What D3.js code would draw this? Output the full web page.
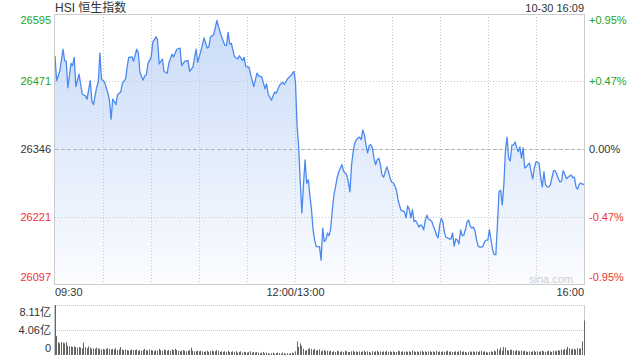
<!DOCTYPE html>
<html>
<head>
<meta charset="utf-8">
<script src="https://cdn.jsdelivr.net/npm/d3@7"></script>
<style>
body { margin: 0; background: #fff; }
svg { display: block; font-family: Arial, "Liberation Sans", "Noto Sans CJK SC", sans-serif; }
</style>
</head>
<body>
<script>
// trading minute since 09:30 (lunch removed, 150 = 12:00/13:00, 330 = 16:00)
var minutes = [0,1,3,5,6,7,8,10,11,12,13,15,17,19,20,22,23,24,26,27,28,29,31,33,34,35,36,38,39,41,42,44,45,46,48,49,51,52,53,55,56,57,58,60,61,63,64,65,67,68,70,71,73,74,76,78,79,81,83,84,86,88,89,91,93,95,96,97,99,101,102,104,106,107,108,109,110,112,114,115,117,118,119,121,122,124,126,127,129,131,132,133,135,137,138,140,142,143,145,147,149,150,
  151,152,153,154,155,156,157,158,159,160,161,162,163,165,166,167,168,169,170,171,172,173,174,175,176,177,178,179,180,181,182,183,184,185,186,187,188,189,190,
  191,192,193,194,195,196,197,198,199,200,201,202,203,204,205,206,207,208,209,210,211,212,213,214,215,216,217,218,219,220,221,222,223,224,225,226,227,228,229,230,
  231,232,233,234,235,236,237,238,239,240,241,242,243,244,245,246,247,248,249,250,251,252,253,254,255,256,257,258,259,260,261,262,263,264,265,266,267,268,269,270,
  271,272,273,274,275,276,277,278,279,280,281,282,283,284,285,286,287,288,289,290,291,292,293,294,295,296,297,298,299,300,301,302,303,304,305,306,307,308,309,310,
  311,312,313,314,315,316,317,318,319,320,321,322,323,324,325,326,327,328,329,330];

var prices = [26518,26472,26490,26530,26509,26508,26459,26504,26500,26515,26461,26484,26447,26444,26438,26472,26434,26428,26460,26469,26523,26475,26469,26449,26435,26401,26438,26428,26446,26451,26467,26475,26497,26515,26516,26508,26530,26523,26487,26473,26481,26483,26504,26515,26543,26553,26547,26503,26512,26489,26486,26504,26521,26516,26530,26532,26500,26508,26509,26489,26497,26530,26506,26527,26551,26532,26535,26553,26557,26583,26572,26552,26537,26537,26561,26540,26541,26516,26512,26518,26509,26515,26498,26497,26484,26461,26486,26481,26479,26457,26466,26447,26436,26451,26449,26463,26469,26465,26475,26481,26489,26470,
  26390,26350,26285,26228,26280,26326,26283,26289,26261,26234,26197,26178,26166,26166,26141,26200,26175,26179,26191,26186,26200,26234,26261,26276,26293,26304,26311,26317,26305,26302,26298,26285,26267,26317,26341,26357,26363,26366,26368,
  26363,26381,26372,26353,26339,26352,26354,26348,26329,26317,26326,26329,26317,26298,26294,26304,26313,26304,26293,26285,26284,26278,26270,26252,26241,26232,26232,26230,26219,26241,26235,26219,26234,26212,26214,26208,26202,26206,26204,26197,
  26215,26224,26217,26215,26213,26204,26197,26187,26182,26206,26218,26211,26191,26183,26182,26180,26180,26191,26167,26180,26178,26171,26197,26186,26187,26197,26211,26215,26204,26200,26202,26195,26178,26167,26165,26165,26167,26175,26178,26178,
  26197,26178,26160,26151,26151,26206,26267,26270,26243,26280,26344,26368,26329,26324,26353,26353,26359,26348,26341,26350,26329,26348,26311,26313,26317,26320,26304,26291,26311,26322,26322,26319,26293,26276,26304,26280,26276,26276,26280,26293,
  26306,26306,26300,26291,26285,26287,26306,26300,26291,26294,26296,26298,26293,26294,26276,26272,26281,26283,26281,26281];

// volume per minute, in 亿
var volumes = [8.11,3.1,2.1,1.9,2.1,2.0,1.9,2.1,1.5,1.4,
  1.4,1.3,1.4,1.3,1.2,1.3,1.2,1.1,2.0,1.3,
  1.1,1.4,1.2,1.0,1.1,1.0,1.2,1.1,1.0,0.9,
  1.0,0.9,1.0,1.1,1.0,0.9,1.0,0.9,1.1,0.8,
  0.9,1.3,0.9,0.8,0.9,0.8,0.7,0.8,0.9,0.8,
  0.8,0.9,0.7,0.8,0.7,0.8,1.0,0.8,0.7,0.9,
  0.8,0.7,0.6,0.8,0.7,1.0,0.8,0.7,0.9,0.8,
  0.7,0.8,0.7,0.9,0.8,1.0,0.8,0.7,0.6,0.7,
  0.8,0.7,0.6,0.7,0.8,1.2,0.7,0.6,0.6,0.7,
  0.6,0.7,0.6,0.5,0.6,0.7,0.5,0.6,0.7,0.6,
  0.6,0.8,0.7,0.5,0.6,0.5,0.6,0.5,0.7,0.5,
  0.5,0.6,0.5,0.6,0.4,0.5,0.6,0.4,0.5,0.5,
  0.4,0.5,0.6,0.4,0.5,0.4,0.5,0.4,0.3,0.4,
  0.5,0.3,0.4,0.3,0.2,0.3,0.4,0.2,0.3,0.4,
  0.3,0.2,0.4,0.3,0.2,0.3,0.2,0.3,0.4,0.3,0.6,
  2.2,1.3,1.9,1.5,1.0,0.7,0.8,1.0,1.1,1.0,
  0.8,1.0,0.7,0.8,0.9,0.6,0.7,0.8,0.6,0.7,
  0.6,0.7,0.5,0.6,0.5,0.7,0.6,0.5,0.6,0.5,
  0.7,0.6,0.5,0.5,0.6,0.7,0.5,0.6,0.5,0.6,
  0.5,0.6,0.7,0.5,0.6,0.5,0.4,0.6,0.5,0.6,
  0.7,0.5,0.6,0.5,0.6,0.5,0.7,0.5,0.6,0.5,
  0.6,0.5,0.5,0.7,0.6,0.5,0.6,0.5,0.6,0.5,
  0.6,0.5,0.7,0.6,0.5,0.6,0.5,0.6,0.7,0.5,
  0.6,0.5,0.6,0.6,0.5,0.6,0.5,0.7,0.5,0.6,
  0.5,0.6,0.5,0.6,0.7,0.5,0.6,0.5,0.5,0.6,
  0.5,0.6,0.7,0.5,0.6,0.5,0.4,0.5,0.6,0.5,
  0.6,0.5,0.6,0.5,0.6,0.7,0.5,0.6,0.5,0.4,
  0.5,0.6,0.5,0.7,0.6,1.0,0.8,1.2,0.7,1.3,
  1.2,0.8,0.7,0.9,0.8,0.7,0.6,0.8,0.7,0.6,
  0.7,0.6,0.7,0.6,0.5,0.6,0.5,0.6,0.7,0.5,
  0.6,0.5,0.6,0.7,0.6,0.5,0.6,0.7,0.6,0.5,
  0.7,0.6,0.7,0.8,0.7,0.9,0.8,1.0,0.9,1.3,
  1.1,0.9,1.0,1.0,0.9,1.1,1.0,1.1,2.2,5.6];

var priceTicks = [26595, 26471, 26346, 26221, 26097];
var pctLabels = ["+0.95%", "+0.47%", "0.00%", "-0.47%", "-0.95%"];
var volTicks = [8.11, 4.055, 0];
var volLabels = ["8.11亿", "4.06亿", "0"];
var timeTicks = [0, 150, 330];
var timeLabels = ["09:30", "12:00/13:00", "16:00"];
var gridMinutes = [30, 60, 90, 120, 150, 180, 210, 240, 270, 300];

var green = "#25a525", red = "#f03333", dark = "#333";

var plotL = 55, plotR = 584, plotT = 14, plotB = 284;
var volT = 305, volB = 355;

var svg = d3.select("body").append("svg")
  .attr("width", 640)
  .attr("height", 360);

var x = d3.scaleLinear().domain([0, 330]).range([plotL, plotR]);
var y = d3.scaleLinear().domain([26097, 26595]).range([plotB, plotT]);
var yv = d3.scaleLinear().domain([0, 8.11]).range([volB, volT]);

// gradient under the line
var grad = svg.append("defs").append("linearGradient")
  .attr("id", "fillGrad")
  .attr("gradientUnits", "userSpaceOnUse")
  .attr("x1", 0).attr("y1", plotT).attr("x2", 0).attr("y2", plotB);
grad.append("stop").attr("offset", "0%").attr("stop-color", "#c8dbf8");
grad.append("stop").attr("offset", "100%").attr("stop-color", "#fbfcff");

var series = minutes.map(function(m, i) { return {m: m, p: prices[i]}; });

svg.append("path")
  .datum(series)
  .attr("fill", "url(#fillGrad)")
  .attr("d", d3.area()
    .x(function(d) { return x(d.m); })
    .y0(plotB)
    .y1(function(d) { return y(d.p); }));

// grid
svg.selectAll("line.vgrid")
  .data(gridMinutes)
  .enter().append("line")
  .attr("x1", function(d) { return Math.round(x(d)) + 0.5; })
  .attr("x2", function(d) { return Math.round(x(d)) + 0.5; })
  .attr("y1", plotT).attr("y2", plotB)
  .attr("stroke", "#c8c8c8")
  .attr("stroke-dasharray", "1,2");

svg.selectAll("line.hgrid")
  .data(priceTicks.slice(1, 4))
  .enter().append("line")
  .attr("x1", plotL).attr("x2", plotR)
  .attr("y1", function(d) { return Math.round(y(d)) + 0.5; })
  .attr("y2", function(d) { return Math.round(y(d)) + 0.5; })
  .attr("stroke", function(d, i) { return i == 1 ? "#b4b4b4" : "#c8c8c8"; })
  .attr("stroke-dasharray", function(d, i) { return i == 1 ? "4,2" : "1,2"; });

svg.append("path")
  .datum(series)
  .attr("fill", "none")
  .attr("stroke", "#4b89ee")
  .attr("stroke-width", 1.3)
  .attr("stroke-linejoin", "round")
  .attr("d", d3.line()
    .x(function(d) { return x(d.m); })
    .y(function(d) { return y(d.p); }));

// frame
svg.append("rect")
  .attr("x", plotL - 0.5).attr("y", plotT + 0.5)
  .attr("width", plotR - plotL + 1).attr("height", plotB - plotT)
  .attr("fill", "none")
  .attr("stroke", "#cccccc");

// price labels
var tickColor = function(i) { return i < 2 ? green : (i == 2 ? dark : red); };
var tickShift = function(i) { return i == 0 ? 6 : (i == 4 ? -7 : 0); };

svg.selectAll("text.price")
  .data(priceTicks)
  .enter().append("text")
  .attr("x", 51)
  .attr("y", function(d, i) { return y(d) + tickShift(i); })
  .attr("dy", "0.35em")
  .attr("text-anchor", "end")
  .attr("font-size", 11)
  .attr("fill", function(d, i) { return tickColor(i); })
  .text(function(d) { return d; });

svg.selectAll("text.pct")
  .data(priceTicks)
  .enter().append("text")
  .attr("x", 589)
  .attr("y", function(d, i) { return y(d) + tickShift(i); })
  .attr("dy", "0.35em")
  .attr("font-size", 11)
  .attr("fill", function(d, i) { return tickColor(i); })
  .text(function(d, i) { return pctLabels[i]; });

// time labels
svg.selectAll("text.time")
  .data(timeTicks)
  .enter().append("text")
  .attr("x", function(d) { return x(d); })
  .attr("y", 296)
  .attr("text-anchor", function(d, i) { return ["start", "middle", "end"][i]; })
  .attr("font-size", 11)
  .attr("fill", dark)
  .text(function(d, i) { return timeLabels[i]; });

svg.append("text")
  .attr("x", 55).attr("y", 12)
  .attr("font-size", 12)
  .attr("fill", dark)
  .text("HSI 恒生指数");

svg.append("text")
  .attr("x", 584).attr("y", 12)
  .attr("text-anchor", "end")
  .attr("font-size", 11)
  .attr("fill", dark)
  .text("10-30 16:09");

svg.append("text")
  .attr("x", 573).attr("y", 283)
  .attr("text-anchor", "end")
  .attr("font-size", 11)
  .attr("fill", "#cfcfcf")
  .text("sina.com");

// volume panel
svg.selectAll("line.vol")
  .data(volTicks.slice(0, 2))
  .enter().append("line")
  .attr("x1", plotL).attr("x2", plotR)
  .attr("y1", function(d) { return Math.round(yv(d)) + 0.5; })
  .attr("y2", function(d) { return Math.round(yv(d)) + 0.5; })
  .attr("stroke", "#c8c8c8")
  .attr("stroke-dasharray", "1,1");

[plotL - 0.5, plotR + 0.5].forEach(function(px) {
  svg.append("line")
    .attr("x1", px).attr("x2", px)
    .attr("y1", volT).attr("y2", volB + 1)
    .attr("stroke", "#cccccc");
});

svg.selectAll("rect.bar")
  .data(volumes)
  .enter().append("rect")
  .attr("x", function(d, i) { return Math.floor(x(i)); })
  .attr("width", 1)
  .attr("y", function(d) { return yv(d); })
  .attr("height", function(d) { return volB - yv(d); })
  .attr("fill", "#666");

svg.selectAll("text.vlab")
  .data(volTicks)
  .enter().append("text")
  .attr("x", 51)
  .attr("y", function(d, i) { return yv(d) + [7, 0, -7][i]; })
  .attr("dy", "0.35em")
  .attr("text-anchor", "end")
  .attr("font-size", 11)
  .attr("fill", dark)
  .text(function(d, i) { return volLabels[i]; });
</script>
</body>
</html>
